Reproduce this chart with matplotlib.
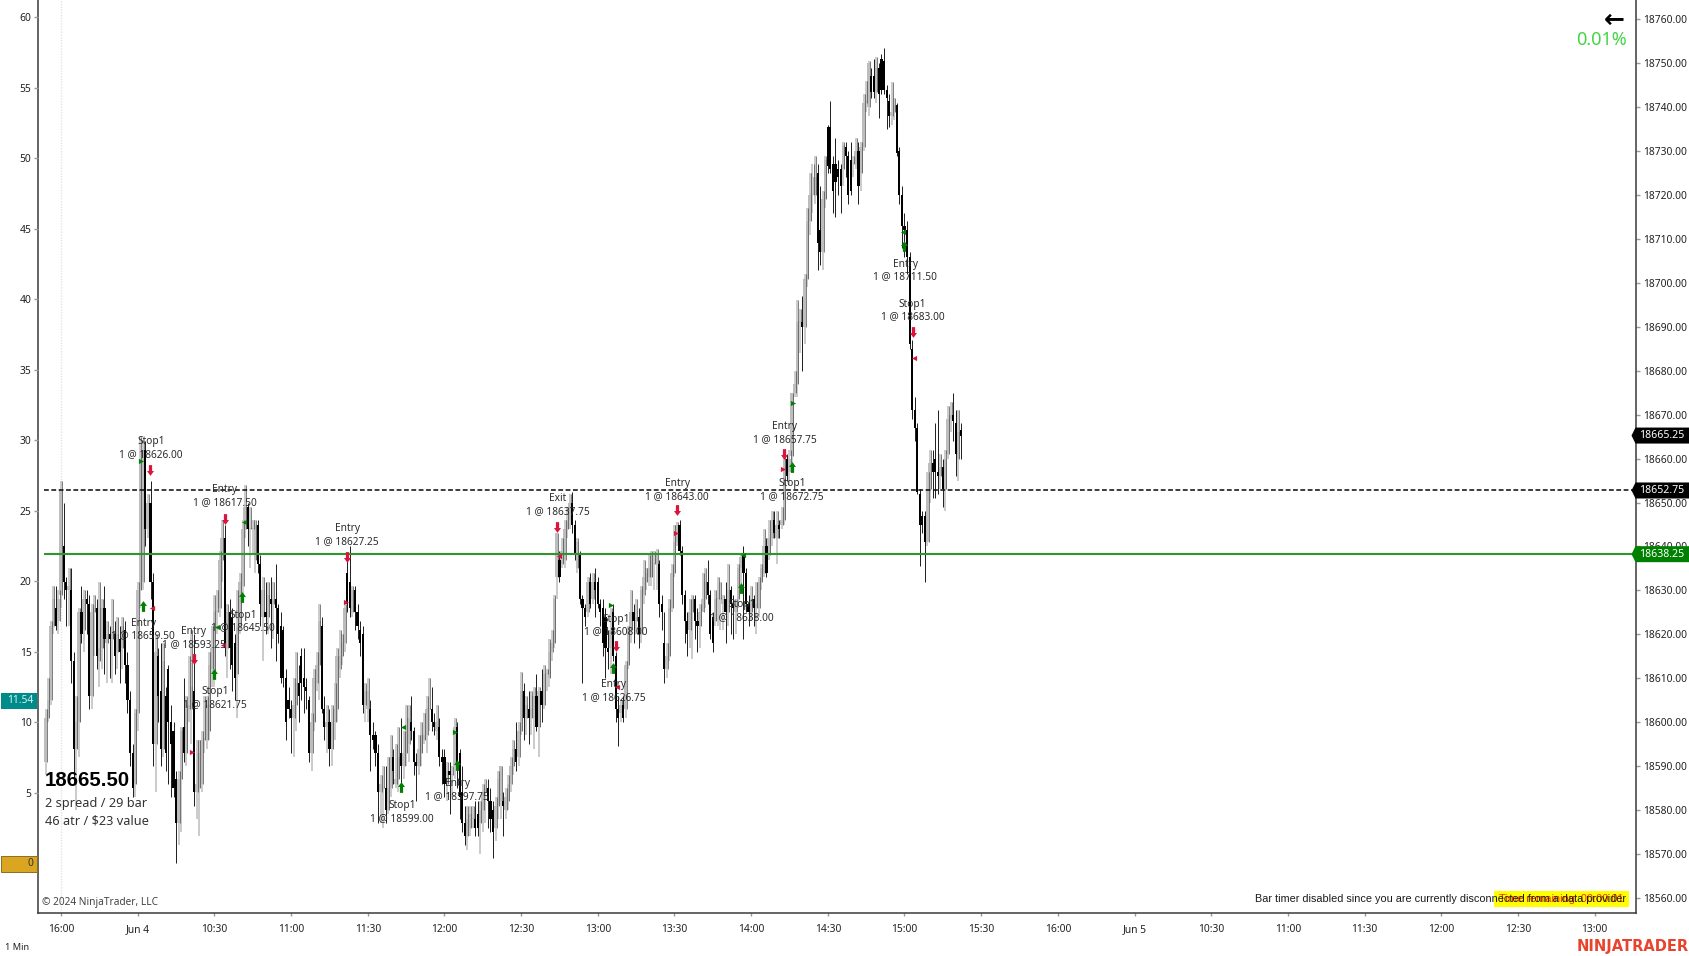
import numpy as np
import matplotlib
matplotlib.use("Agg")
import matplotlib.pyplot as plt
from matplotlib.patches import Polygon, Rectangle
from matplotlib.path import Path

plt.rcParams['font.family'] = ['Noto Sans', 'DejaVu Sans']

opens = [18591,18601,18605,18622,18626,18623,18629,18640,18632,18630,
18630,18614,18594,18600,18625,18621,18628,18627,18606,18625,
18626,18614,18617,18626,18618,18620,18619,18620,18616,18619,
18617,18621,18613,18605,18593,18586,18602,18630,18632,18662,
18644,18650,18632,18595,18615,18607,18594,18606,18612,18600,
18598,18587,18577,18587,18599,18593,18603,18603,18607,18584,
18585,18586,18596,18596,18598,18612,18610,18625,18626,18637,
18642,18617,18625,18624,18618,18611,18622,18631,18644,18649,
18644,18644,18637,18645,18636,18624,18625,18624,18628,18627,
18628,18626,18622,18621,18610,18605,18603,18601,18604,18609,
18615,18610,18608,18605,18593,18600,18609,18613,18622,18603,
18599,18600,18594,18600,18603,18612,18615,18618,18634,18632,
18625,18630,18625,18621,18620,18604,18603,18603,18597,18597,
18593,18584,18585,18585,18580,18585,18592,18586,18587,18593,
18590,18593,18595,18600,18598,18591,18590,18593,18596,18597,
18603,18603,18600,18598,18599,18592,18592,18586,18589,18588,
18590,18599,18593,18584,18577,18574,18576,18578,18578,18579,
18577,18580,18584,18585,18582,18580,18576,18581,18582,18582,
18580,18582,18586,18590,18594,18592,18598,18607,18601,18603,
18601,18601,18606,18599,18607,18604,18611,18610,18616,18618,
18633,18637,18636,18637,18644,18646,18650,18645,18635,18638,
18628,18626,18625,18632,18628,18632,18632,18627,18626,18624,
18617,18617,18625,18615,18603,18602,18604,18603,18613,18621,
18625,18623,18624,18620,18629,18632,18633,18633,18636,18636,
18636,18627,18618,18612,18615,18626,18634,18641,18645,18639,
18629,18623,18621,18625,18628,18623,18622,18625,18628,18632,
18629,18624,18623,18628,18628,18627,18628,18625,18630,18627,
18625,18628,18635,18638,18634,18627,18625,18628,18626,18626,
18632,18634,18640,18638,18642,18646,18642,18645,18645,18646,
18660,18657,18660.5,18675,18677,18691,18691,18690,18701,18714,
18720,18720,18725,18712,18707,18719,18735.5,18735.5,18727,18727,
18726,18726,18726,18731,18729,18728,18727,18727,18730,18725,
18731,18741,18740,18747,18747,18743.5,18749,18751,18750.5,18744,
18741.5,18738,18739,18740.5,18730,18720,18713,18712,18706,18685,
18671,18667,18652,18647,18647,18641,18653,18659,18660,18657,
18656,18658,18653,18661,18669,18670,18668,18660,18666.5]

closes = [18601,18605,18622,18628,18622,18628,18653,18632,18630,18631,
18614,18594,18600,18625,18620,18628,18627,18606,18625,18626,
18615,18617,18626,18619,18620,18619,18620,18615,18620,18616,
18622,18613,18605,18593,18585,18602,18630,18660,18662,18644,
18650,18632,18595,18616,18606,18594,18614,18593,18600,18595,
18585,18577,18587,18598,18593,18603,18604,18608,18584,18586,
18593,18596,18596,18604,18613,18617,18625,18625,18637,18642,
18617,18625,18617,18613,18610,18622,18632,18644,18649,18644,
18644,18644,18645,18636,18627,18630,18624,18629,18627,18628,
18626,18620,18610,18610,18600,18603,18601,18604,18609,18606,
18609,18608,18607,18593,18600,18610,18613,18623,18603,18599,
18600,18594,18600,18603,18615,18615,18618,18626,18627,18626,
18630,18625,18622,18618,18604,18607,18607,18597,18596,18593,
18584,18586,18585,18580,18585,18592,18589,18587,18592,18590,
18593,18598,18601,18598,18591,18590,18594,18597,18597,18603,
18603,18600,18599,18600,18592,18591,18586,18589,18588,18588,
18599,18591,18583,18577,18574,18578,18579,18578,18576,18576,
18580,18584,18585,18582,18578,18575,18581,18587,18590,18581,
18583,18586,18590,18594,18591,18598,18607,18601,18604,18601,
18603,18606,18599,18607,18604,18611,18611,18616,18618,18628,
18643,18633,18639,18644,18646,18650,18645,18638,18641,18628,
18626,18624,18632,18627,18632,18630,18627,18625,18618,18617,
18616,18621,18615,18603,18601,18604,18601,18613,18621,18625,
18623,18624,18620,18630,18633,18634,18635,18638,18636,18638,
18627,18625,18612,18615,18626,18634,18641,18645,18639,18629,
18623,18620,18625,18628,18623,18622,18625,18628,18632,18629,
18620,18618,18628,18628,18628,18628,18625,18630,18627,18626,
18627,18635,18637.5,18634,18627,18625,18628,18626,18627,18632,
18635,18640,18634,18642,18646,18643,18645,18644,18646,18660,
18656,18660,18675,18677,18691,18691,18690,18701,18714,18720,
18720,18724,18709,18707,18719,18728,18726.5,18726,18721,18723,
18724,18722,18731.5,18729,18720,18721,18727,18730,18722,18731,
18741,18741,18750,18743.5,18743.5,18749,18743,18744,18744,18742,
18738,18739,18740.5,18729.5,18720,18713,18712,18706,18686,18671,
18667,18652.5,18645,18645,18641,18653,18659,18657,18657,18656,
18658,18653,18660,18669,18670,18668.5,18661,18666,18665.25]

highs = [18603,18610,18623,18631,18631,18630,18655,18650,18633,18635,
18635,18616,18606,18626,18631,18630,18630,18629,18627,18629,
18628,18632,18628,18631,18623,18622,18628,18623,18624,18622,
18624,18623,18616,18607,18595,18603,18632,18665,18664,18664,
18652,18655,18634,18620,18617,18618,18618,18608,18613,18604,
18600,18589,18589,18599,18610,18606,18615,18621,18620,18596,
18596,18598,18606,18606,18616,18622,18629,18630,18639,18646,
18645,18627,18628,18626,18620,18630,18634,18646,18654,18650,
18649,18646,18646,18646,18638,18633,18632,18632,18633,18632,
18636,18627,18625,18622,18612,18608,18605,18610,18616,18613,
18617,18617,18610,18606,18602,18612,18616,18627,18624,18606,
18604,18603,18604,18609,18617,18621,18620,18627,18637,18640,
18631,18631,18627,18623,18622,18609,18610,18605,18600,18598,
18595,18588,18590,18590,18592,18597,18594,18595,18599,18601,
18598,18604,18604,18606,18599,18593,18597,18600,18602,18606,
18610,18608,18602,18604,18601,18594,18594,18591,18591,18590,
18601,18600,18594,18590,18581,18581,18581,18581,18582,18582,
18582,18586,18587,18587,18585,18582,18583,18589,18590,18584,
18585,18588,18592,18596,18600,18600,18611.5,18609,18606,18607,
18607,18608,18611,18608,18612,18613,18612,18619,18621,18629,
18643,18639,18642,18646,18649,18652,18652.5,18646,18642,18639,
18629,18627,18633,18634,18634,18635,18633,18628,18628,18626,
18621,18626,18627,18616,18606,18605,18606,18614,18622,18630,
18627,18628,18626,18631,18637,18635,18638,18639,18639,18639.5,
18637,18629,18625,18618,18628,18636,18645,18645.5,18646,18640,
18630,18625,18628,18629,18629,18626,18627,18634,18635,18637,
18630,18625,18630,18633,18632,18629,18632,18636,18631,18629,
18628,18636,18638.5,18640,18635,18629,18631,18629,18632,18633,
18636,18644,18642,18646,18648,18648,18648,18646,18649,18661,
18661,18662,18675,18680,18696,18694,18697,18702,18717,18725,
18727,18729,18727,18722,18721,18729,18736,18741.5,18729,18733,
18728,18727,18732,18732,18730,18732,18729,18733,18732,18732,
18743,18746,18750.5,18749,18751,18751.5,18750,18752,18753.4,18745,
18743,18745.8,18742,18741,18731,18722,18716,18714,18707,18687,
18674,18668,18653,18648,18648,18657,18662,18662,18668,18671,
18661,18660,18662,18672,18673,18675,18671,18671,18668]

lows = [18588,18600,18604,18620,18621,18620,18626,18628,18622,18622,
18609,18586,18580,18592,18618,18616,18620,18603,18603,18615,
18612,18608,18612,18611,18609,18610,18609,18611,18612,18609,
18612,18609,18602,18590,18583,18583,18598,18626,18630,18640,
18642,18628,18590,18584,18600,18590,18592,18589,18586,18583,
18583,18568,18572,18575,18591,18590,18600,18595,18581,18578,
18574,18584,18593,18594,18596,18608,18608,18620,18624,18632,
18615,18610,18612,18607,18605,18601,18620,18629,18642,18640,
18635,18638,18634,18634,18622,18614,18620,18620,18617,18619,
18614,18618,18609,18608,18596,18601,18593,18592,18598,18600,
18605,18602,18603,18591,18589,18598,18607,18605,18602,18596,
18593,18590,18590,18596,18600,18610,18613,18616,18625,18624,
18624,18621,18619,18615,18602,18600,18600,18589,18594,18590,
18577,18577,18576,18577,18579,18583,18586,18585,18584,18586,
18587,18590,18591,18596,18588,18582,18588,18590,18595,18593,
18598,18598,18597,18596,18590,18586,18583,18582,18579,18583,
18587,18585,18578,18575,18572,18571,18574,18576,18574,18574,
18570,18575,18577,18576,18575,18569,18573,18578,18578,18574,
18578,18580,18584,18588,18589,18590,18597,18596,18597,18595,
18597,18594,18598,18592,18600,18603,18607,18608,18614,18617,
18628,18632,18635,18635,18642,18644,18643,18637,18634,18627,
18609,18622,18624,18626,18627,18624,18626,18622,18615,18610,
18612,18611,18614,18600,18594.5,18600,18600,18601,18612,18618,
18618,18620,18617,18618,18627,18630,18631,18631,18630,18630,
18624,18621,18609,18610,18614,18625,18633,18640,18638,18627,
18618,18615,18617,18614.5,18619,18616,18617,18625,18626,18627,
18619,18616,18622,18622,18621,18621,18618,18622,18620,18619,
18620,18626,18630,18619,18625,18622,18623,18622,18620,18624,
18630,18633,18633,18637,18640,18642,18636,18642,18644,18645,
18655,18654,18659,18674,18674,18684,18680,18686,18699,18711,
18716,18718,18703,18704,18703,18717,18725,18725,18716,18715,
18720,18716,18722,18724,18718,18720,18724,18726,18718,18721,
18730,18739,18738,18742,18742,18741,18737.5,18743,18743,18735,
18735.5,18736,18737,18729,18718,18708,18706,18702,18685,18669,
18664,18652,18635.5,18643,18632,18640,18650,18651,18651,18652,
18653,18649,18648,18660,18666,18664,18656,18655,18660]

tick_labels = ["16:00", "Jun 4", "10:30", "11:00", "11:30", "12:00", "12:30", "13:00", "13:30",
               "14:00", "14:30", "15:00", "15:30", "16:00", "Jun 5", "10:30", "11:00", "11:30",
               "12:00", "12:30", "13:00"]
price_ticks = list(range(18560, 18770, 10))
left_ticks = list(range(5, 65, 5))

last_price = 18665.25
dash_level = 18652.75
green_level = 18638.25

# trade labels: bar, price, text
label_bars = [41.2, 70.1, 117.9, 38.1, 58.0, 77.2, 66.2, 139.3, 161, 200.2, 247, 223.1, 222.1, 272.4, 289.2, 292, 336.2, 339.2]
label_prices = [18662.4, 18651.5, 18642.6, 18621.1, 18619.1, 18622.9, 18605.5, 18579.5, 18584.5, 18649.4, 18652.8,
                18622, 18607, 18625.4, 18665.8, 18652.8, 18702.8, 18693.7]
label_texts = ["Stop1\n1 @ 18626.00", "Entry\n1 @ 18617.50", "Entry\n1 @ 18627.25", "Entry\n1 @ 18659.50",
               "Entry\n1 @ 18593.25", "Stop1\n1 @ 18645.50", "Stop1\n1 @ 18621.75", "Stop1\n1 @ 18599.00",
               "Entry\n1 @ 18597.75", "Exit\n1 @ 18637.75", "Entry\n1 @ 18643.00", "Stop1\n1 @ 18608.00",
               "Entry\n1 @ 18626.75", "Stop1\n1 @ 18638.00", "Entry\n1 @ 18657.75", "Stop1\n1 @ 18672.75",
               "Entry\n1 @ 18711.50", "Stop1\n1 @ 18683.00"]

red_arrow_x = [40.8, 70.0, 117.9, 57.9, 200.2, 247, 223.1, 288.8, 339.2]
red_arrow_y = [18657.4, 18646.3, 18637.6, 18614.5, 18644.5, 18648.2, 18617.4, 18661.1, 18688.9]
green_arrow_x = [38, 76.9, 66, 139.1, 161, 222.1, 272.1, 292, 335.9]
green_arrow_y = [18626.4, 18628.4, 18610.9, 18585.2, 18590.2, 18612.4, 18630.5, 18658, 18708.3]
green_right_x = [37.3, 160.2, 221.3, 292.4]
green_right_y = [18659.5, 18597.75, 18626.75, 18672.75]
green_left_x = [77.7, 66.9, 139.9, 272.9, 335.3]
green_left_y = [18645.5, 18621.75, 18599, 18638, 18711.5]
red_left_x = [41.7, 69.2, 200.9, 223.6, 339.8]
red_left_y = [18626, 18617.5, 18637.75, 18608, 18683]
red_right_x = [57.4, 117.4, 246.5, 288.3]
red_right_y = [18593.25, 18627.25, 18643, 18657.75]

W, H = 1690, 956
fig = plt.figure(figsize=(W / 100, H / 100), dpi=100)
ax = fig.add_axes([38.5 / W, (H - 913.3) / H, (1636 - 38.5) / W, 913.3 / H])

x = np.arange(len(closes))
o = np.array(opens, dtype=float)
c = np.array(closes, dtype=float)
hi = np.array(highs, dtype=float)
lo = np.array(lows, dtype=float)
up = c >= o
dn = ~up

ax.axvline(6, color="#e4e4e4", lw=1, ls=(0, (1, 1)), zorder=0)

# up bars: gray body with a thin dark line down its right edge, lower wick stays gray
ax.vlines(x[up], lo[up], hi[up], color="#bdbdbd", lw=1.1, zorder=2)
ax.bar(x[up], np.maximum(c[up] - o[up], 0.3), bottom=o[up], width=1.25, color="#bdbdbd", zorder=2)
ax.vlines(x[up] + 0.4, o[up], hi[up], color="#4a4a4a", lw=0.5, zorder=3)
ax.vlines(x[dn], lo[dn], hi[dn], color="#1c1c1c", lw=0.7, zorder=3)
ax.bar(x[dn], o[dn] - c[dn], bottom=c[dn], width=0.85, color="#000000", zorder=3)

ax.hlines(dash_level, -0.6, 622.2, color="#111111", lw=1.15, ls=(0, (3, 1.6)), zorder=4)
ax.hlines(green_level, -0.6, 622.2, color="#2f962f", lw=1.5, zorder=4)

ax.set_xlim(-2.82, 622.2)
ax.set_ylim(18556.5, 18764.4)
ax.set_xticks(6 + 30 * np.arange(len(tick_labels)))
ax.set_xticklabels(tick_labels)
ax.tick_params(axis="x", length=2.5, width=1, color="#999999", labelsize=7.4, labelcolor="#222222", pad=5)
ax.spines["top"].set_visible(False)
for s in ["left", "right", "bottom"]:
    ax.spines[s].set_color("#3a3a3a")
    ax.spines[s].set_linewidth(1.1)

left = ax.twinx()
left.set_ylim(-3.53, 61.22)
left.yaxis.tick_left()
left.set_yticks(left_ticks)
left.tick_params(axis="y", length=3, width=1, color="#999999", labelsize=7.4, labelcolor="#222222", pad=2)
for s in left.spines.values():
    s.set_visible(False)

# twinx puts the main y axis on the left, so move it after
ax.yaxis.tick_right()
ax.set_yticks(price_ticks)
ax.set_yticklabels([f"{p:.2f}" for p in price_ticks])
ax.tick_params(axis="y", length=3, width=1, color="#999999", labelsize=7.4, labelcolor="#222222", pad=2)

# trade markers
arrow_down = Path([(-0.3, 1), (0.3, 1), (0.3, -0.1), (0.65, -0.1), (0, -1), (-0.65, -0.1), (-0.3, -0.1), (-0.3, 1), (-0.3, 1)],
                  closed=True)
arrow_up = Path([(-0.3, -1), (0.3, -1), (0.3, 0.1), (0.65, 0.1), (0, 1), (-0.65, 0.1), (-0.3, 0.1), (-0.3, -1), (-0.3, -1)],
                closed=True)
ax.scatter(red_arrow_x, red_arrow_y, marker=arrow_down, s=60, color="#dc143c", linewidths=0, zorder=6)
ax.scatter(green_arrow_x, green_arrow_y, marker=arrow_up, s=60, color="#008000", linewidths=0, zorder=6)
ax.scatter(green_right_x, green_right_y, marker=">", s=14, color="#008000", linewidths=0, zorder=6)
ax.scatter(green_left_x, green_left_y, marker="<", s=14, color="#008000", linewidths=0, zorder=6)
ax.scatter(red_right_x, red_right_y, marker=">", s=14, color="#dc143c", linewidths=0, zorder=6)
ax.scatter(red_left_x, red_left_y, marker="<", s=14, color="#dc143c", linewidths=0, zorder=6)

for bx, by, txt in zip(label_bars, label_prices, label_texts):
    ax.text(bx, by, txt, ha="center", va="center", fontsize=7.3, color="#2b2b2b", linespacing=1.25, zorder=7)


def px(xp, yp):
    return xp / W, 1 - yp / H


def flag(price, bg, label, fg="white"):
    yp = H - ax.transData.transform((0, price))[1]
    pts = [px(1631.5, yp), px(1635.5, yp - 8), px(1690, yp - 8), px(1690, yp + 8), px(1635.5, yp + 8)]
    fig.add_artist(Polygon(pts, closed=True, transform=fig.transFigure, facecolor=bg, edgecolor="none", zorder=5))
    fx, fy = px(1684, yp)
    fig.text(fx, fy, label, ha="right", va="center", fontsize=7.6, color=fg, zorder=6)


flag(last_price, "#000000", "18665.25")
flag(dash_level, "#000000", "18652.75")
flag(green_level, "#008000", "18638.25")

fx, fy = px(1, 708.8)
fig.add_artist(Rectangle((fx, fy), 36 / W, 16 / H, transform=fig.transFigure, facecolor="#008b8b", edgecolor="none", zorder=5))
fx, fy = px(33, 700.8)
fig.text(fx, fy, "11.54", ha="right", va="center", fontsize=7.4, color="#d8f0f0", zorder=6)
fx, fy = px(1, 871.5)
fig.add_artist(Rectangle((fx, fy), 36 / W, 16 / H, transform=fig.transFigure, facecolor="#daa520", edgecolor="#8a6d20", lw=0.7, zorder=5))
fx, fy = px(33, 863.5)
fig.text(fx, fy, "0", ha="right", va="center", fontsize=7.4, color="#333333", zorder=6)

# info text
fx, fy = px(45, 780)
fig.text(fx, fy, "18665.50", ha="left", va="center", fontsize=14.7, fontweight="bold", color="black",
         family=["Liberation Sans"], zorder=8)
fx, fy = px(45, 804)
fig.text(fx, fy, "2 spread / 29 bar", ha="left", va="center", fontsize=9.2, color="#333333", zorder=8)
fx, fy = px(45, 821)
fig.text(fx, fy, "46 atr / $23 value", ha="left", va="center", fontsize=9.2, color="#333333", zorder=8)
fx, fy = px(42, 903)
fig.text(fx, fy, "© 2024 NinjaTrader, LLC", ha="left", va="center", fontsize=7.3, color="#444444", zorder=8)
fx, fy = px(5, 947)
fig.text(fx, fy, "1 Min", ha="left", va="center", fontsize=6.6, color="#222222", zorder=8)

# bar timer
fx, fy = px(1494, 907)
fig.add_artist(Rectangle((fx, fy), 135 / W, 16 / H, transform=fig.transFigure, facecolor="#ffff00", edgecolor="none", zorder=5))
fx, fy = px(1561, 899)
fig.text(fx, fy, "Time remaining: 00:00:01", ha="center", va="center", fontsize=7.9, color="#ff2a00", family=["Liberation Sans"], zorder=6)
fx, fy = px(1626, 899)
fig.text(fx, fy, "Bar timer disabled since you are currently disconnected from a data provider", ha="right", va="center",
         fontsize=7.87, color="#1a1a1a", family=["Liberation Sans"], zorder=7)

# top right
fx, fy = px(1614, 20)
fig.text(fx, fy, "←", ha="center", va="center", fontsize=18, fontweight="bold", color="black", family=["DejaVu Sans"], zorder=8)
fx, fy = px(1626.5, 40)
fig.text(fx, fy, "0.01%", ha="right", va="center", fontsize=13, color="#44d444", zorder=8)

fx, fy = px(1689, 946.5)
fig.text(fx, fy, "NINJATRADER", ha="right", va="center", fontsize=10.5, fontweight="bold", color="#e8432d", family=["DejaVu Sans"], zorder=8)

fig.savefig("out.png", dpi=100)
